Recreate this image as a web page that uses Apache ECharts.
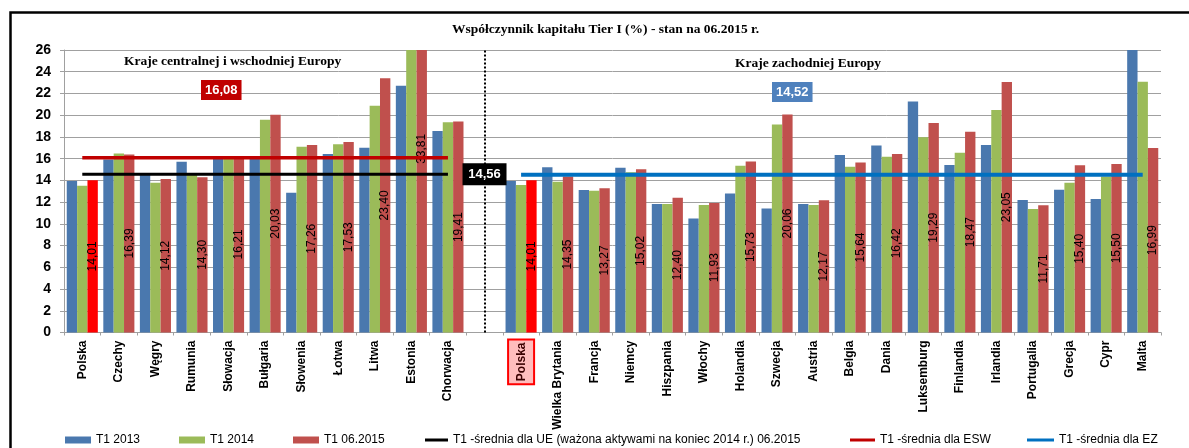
<!DOCTYPE html>
<html><head><meta charset="utf-8">
<script src="https://cdn.jsdelivr.net/npm/echarts@6/dist/echarts.min.js"></script>
<style>html,body{margin:0;padding:0;background:#fff}#c{width:1189px;height:448px}</style>
</head><body><div id="c"></div>
<script>
const categories = ['Polska','Czechy','Węgry','Rumunia','Słowacja','Bułgaria','Słowenia','Łotwa','Litwa','Estonia','Chorwacja','',
  'Polska','Wielka Brytania','Francja','Niemcy','Hiszpania','Włochy','Holandia','Szwecja','Austria','Belgia','Dania','Luksemburg','Finlandia','Irlandia','Portugalia','Grecja','Cypr','Malta'];
const t1_2013 = [13.94,15.93,14.49,15.71,16.10,16.00,12.86,16.42,17.00,22.70,18.54,null,
  13.94,15.20,13.11,15.16,11.82,10.50,12.80,11.42,11.82,16.33,17.22,21.27,15.41,17.25,12.19,13.14,12.28,27.00];
const t1_2014 = [13.50,16.48,13.78,14.50,16.05,19.57,17.10,17.32,20.86,28.00,19.34,null,
  13.57,13.87,13.05,14.74,11.82,11.73,15.35,19.15,11.73,15.25,16.18,17.98,16.54,20.47,11.36,13.78,14.35,23.07];
const t1_2015 = [14.01,16.39,14.12,14.30,16.21,20.03,17.26,17.53,23.40,33.81,19.41,null,
  14.01,14.35,13.27,15.02,12.40,11.93,15.73,20.06,12.17,15.64,16.42,19.29,18.47,23.05,11.71,15.40,15.50,16.99];
const ueAvg = 14.56;   // T1 - średnia dla UE
const eswAvg = 16.08;  // T1 - średnia dla ESW
const ezAvg = 14.52;   // T1 - średnia dla EZ
const cewGroup = [0, 10];   // first/last index, Europa środkowo-wschodnia
const westGroup = [12, 29]; // first/last index, Europa zachodnia
const gapIndex = 11;
const highlightIdx = [0, 12];
const yMax = 26;

const fmt = v => v.toFixed(2).replace('.', ',');
const names = ['T1 2013','T1 2014','T1 06.2015',
  'T1 -średnia dla UE (ważona aktywami na koniec 2014 r.) 06.2015','T1 -średnia dla ESW','T1 -średnia dla EZ'];
const C = {blue:'#4a78ae', green:'#9bbb59', red:'#c0504d', hl:'#ff0000', esw:'#c00000', ez:'#0070c0'};
const inRange = (r, v) => categories.map((c, i) => (i >= r[0] && i <= r[1]) ? v : null);

const redData = t1_2015.map((v, i) => {
  if (v == null) return null;
  const item = {value: v};
  if (highlightIdx.includes(i)) item.itemStyle = {color: C.hl};
  if (v > yMax) item.label = {position: ['50%', ((yMax - v / 2) / yMax * 100) + '%'], align: 'center', verticalAlign: 'middle'};
  return item;
});

const chart = echarts.init(document.getElementById('c'), null, {renderer: 'canvas'});
const font = 'Liberation Sans';
const legendBase = {orient: 'horizontal', top: 429, itemGap: 0, textStyle: {fontFamily: font, fontSize: 12, color: '#000'}};
const serifTitle = (text, left, top) => ({text: text, left: left, top: top, padding: 0,
  textStyle: {fontFamily: 'Liberation Serif', fontWeight: 'bold', fontSize: 13.5, color: '#000'}});
const valueBox = (left, top, bg, val) => ({text: fmt(val), left: left, top: top, padding: [3, 4, 2, 4], backgroundColor: bg,
  textStyle: {fontFamily: font, fontWeight: 'bold', fontSize: 13, color: '#fff', lineHeight: 15}});
chart.setOption({
  animation: false,
  title: [
    serifTitle('Współczynnik kapitału Tier I (%) - stan na 06.2015 r.', 452, 23),
    serifTitle('Kraje centralnej i wschodniej Europy', 124, 55),
    serifTitle('Kraje zachodniej Europy', 735, 57),
    valueBox(201, 80, C.esw, eswAvg),
    valueBox(772, 82, '#4f81bd', ezAvg)
  ],
  grid: {left: 64, right: 28, top: 50, bottom: 115.5, containLabel: false},
  xAxis: {
    type: 'category', data: categories,
    axisLine: {lineStyle: {color: '#a0a0a0'}},
    axisTick: {show: true, length: 3, lineStyle: {color: '#a0a0a0'}},
    axisLabel: {
      interval: 0, rotate: 90, margin: 8, color: '#000', fontFamily: font, fontWeight: 'bold', fontSize: 12,
      formatter: (v, i) => highlightIdx.includes(i) && i > gapIndex ? '{hl|' + v + '}' : v,
      rich: {hl: {fontFamily: font, fontWeight: 'bold', fontSize: 12, color: '#3a0000', backgroundColor: '#ffbdbd', borderColor: '#ff0000', borderWidth: 2, padding: [7, 2, 5, 2]}}
    }
  },
  yAxis: {
    type: 'value', min: 0, max: yMax, interval: 2,
    axisLine: {show: true, lineStyle: {color: '#a0a0a0'}},
    axisTick: {show: true, length: 4, lineStyle: {color: '#a0a0a0'}},
    splitLine: {lineStyle: {color: '#a0a0a0', width: 1}},
    axisLabel: {margin: 13, color: '#000', fontFamily: font, fontWeight: 'bold', fontSize: 14}
  },
  legend: [
    Object.assign({}, legendBase, {left: 60, data: [names[0]], icon: 'rect', itemWidth: 26, itemHeight: 7}),
    Object.assign({}, legendBase, {left: 174, data: [names[1]], icon: 'rect', itemWidth: 26, itemHeight: 7}),
    Object.assign({}, legendBase, {left: 288, data: [names[2]], icon: 'rect', itemWidth: 26, itemHeight: 7}),
    Object.assign({}, legendBase, {left: 420, data: [names[3]], icon: 'rect', itemWidth: 23, itemHeight: 3}),
    Object.assign({}, legendBase, {left: 845, data: [names[4]], icon: 'rect', itemWidth: 25, itemHeight: 3}),
    Object.assign({}, legendBase, {left: 1022, data: [names[5]], icon: 'rect', itemWidth: 27, itemHeight: 3})
  ],
  series: [
    {name: names[0], type: 'bar', data: t1_2013, itemStyle: {color: C.blue}, barGap: '0%', barCategoryGap: '15%', clip: true},
    {name: names[1], type: 'bar', data: t1_2014, itemStyle: {color: C.green}, barGap: '0%', barCategoryGap: '15%', clip: true},
    {name: names[2], type: 'bar', data: redData, itemStyle: {color: C.red}, barGap: '0%', barCategoryGap: '15%', clip: true,
      label: {show: true, position: 'inside', rotate: 90, color: '#000', fontFamily: font, fontSize: 12,
        formatter: p => fmt(p.value)}},
    {name: names[3], type: 'line', data: inRange(cewGroup, ueAvg), symbol: 'none', z: 5,
      itemStyle: {color: '#000'}, lineStyle: {color: '#000', width: 3},
      markLine: {silent: true, symbol: 'none', label: {show: false},
        lineStyle: {color: '#000', width: 2, type: [2, 2]}, data: [{xAxis: gapIndex}]},
      markPoint: {symbol: 'rect', symbolSize: [44, 22], itemStyle: {color: '#000'},
        label: {show: true, color: '#fff', fontFamily: font, fontWeight: 'bold', fontSize: 13, formatter: () => fmt(ueAvg)},
        data: [{coord: [gapIndex, ueAvg]}]}},
    {name: names[4], type: 'line', data: inRange(cewGroup, eswAvg), symbol: 'none', z: 5,
      itemStyle: {color: C.esw}, lineStyle: {color: C.esw, width: 3.5}},
    {name: names[5], type: 'line', data: inRange(westGroup, ezAvg), symbol: 'none', z: 5,
      itemStyle: {color: C.ez}, lineStyle: {color: C.ez, width: 4}}
  ],
  graphic: [
    {type: 'polyline', shape: {points: [[10.5, 448], [10.5, 12.5], [1189, 12.5]]}, style: {stroke: '#000', lineWidth: 2.5, fill: null}, z: 10}
  ]
});
</script></body></html>
